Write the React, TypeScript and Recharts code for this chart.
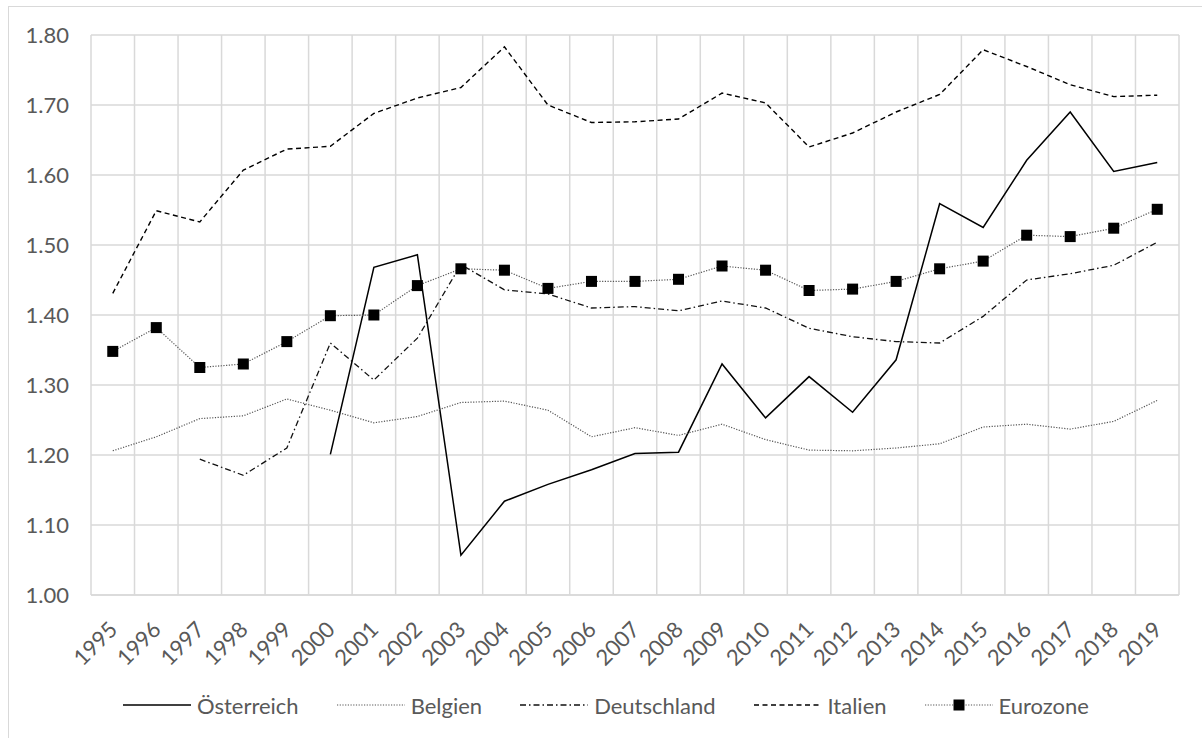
import React from 'react';
import { LineChart, Line, XAxis, YAxis, CartesianGrid, Legend } from 'recharts';

const years = ['1995','1996','1997','1998','1999','2000','2001','2002','2003','2004','2005','2006','2007','2008','2009','2010','2011','2012','2013','2014','2015','2016','2017','2018','2019'];
const oesterreich = [null,null,null,null,null,1.201,1.468,1.486,1.057,1.134,1.158,1.179,1.202,1.204,1.330,1.253,1.312,1.261,1.336,1.559,1.525,1.621,1.690,1.605,1.618];
const belgien = [1.206,1.226,1.252,1.256,1.280,1.264,1.246,1.255,1.275,1.277,1.264,1.226,1.239,1.228,1.244,1.222,1.207,1.206,1.210,1.216,1.240,1.244,1.237,1.248,1.278];
const deutschland = [null,null,1.194,1.171,1.210,1.360,1.307,1.367,1.472,1.436,1.430,1.410,1.412,1.406,1.420,1.410,1.381,1.369,1.362,1.360,1.398,1.450,1.459,1.471,1.504];
const italien = [1.431,1.549,1.533,1.607,1.637,1.641,1.688,1.710,1.725,1.783,1.700,1.675,1.676,1.680,1.717,1.703,1.640,1.660,1.690,1.715,1.779,1.755,1.729,1.712,1.714];
const eurozone = [1.348,1.382,1.325,1.330,1.362,1.399,1.400,1.442,1.466,1.464,1.438,1.448,1.448,1.451,1.470,1.464,1.435,1.437,1.448,1.466,1.477,1.514,1.512,1.524,1.551];
const yTicks = [1.0,1.1,1.2,1.3,1.4,1.5,1.6,1.7,1.8];

const data = years.map((y, i) => ({
  year: y,
  oe: oesterreich[i],
  be: belgien[i],
  de: deutschland[i],
  it: italien[i],
  eu: eurozone[i],
}));

const FONT = 'Lato, "Open Sans", sans-serif';
const TXT = '#595959';

const CHART_W = 1202;
const CHART_H = 738;
const MARGIN = { top: 35, right: 23, bottom: 13, left: 11 };
const Y_AXIS_W = 80;
const PLOT_W = CHART_W - MARGIN.left - MARGIN.right - Y_AXIS_W;
const HALF_BAND = PLOT_W / years.length / 2;

const series = [
  { key: 'oe', name: 'Österreich', stroke: '#000000', width: 1.5, dash: undefined as string | undefined, marker: false },
  { key: 'be', name: 'Belgien', stroke: '#555555', width: 1.2, dash: '1.2 1.5', marker: false },
  { key: 'de', name: 'Deutschland', stroke: '#111111', width: 1.3, dash: '6 3 1.5 3', marker: false },
  { key: 'it', name: 'Italien', stroke: '#000000', width: 1.4, dash: '5 3.5', marker: false },
  { key: 'eu', name: 'Eurozone', stroke: '#555555', width: 1.2, dash: '1.2 1.5', marker: true },
];

const SquareDot = (props: any) => {
  const { cx, cy, index } = props;
  if (cx == null || cy == null) return <g key={`d${index}`} />;
  return <rect key={`d${index}`} x={cx - 5.5} y={cy - 5.5} width={11} height={11} fill="#000" />;
};

const XTick = (props: any) => {
  const { x, y, payload } = props;
  return (
    <g transform={`translate(${x},${y + 28})`}>
      <text x={0} y={0} textAnchor="end" dominantBaseline="central" transform="rotate(-45)" fill={TXT} fontSize={22} fontFamily={FONT}>
        {payload.value}
      </text>
    </g>
  );
};

const renderLegend = () => (
  <div style={{ height: 40, display: 'flex', justifyContent: 'flex-start', alignItems: 'center', fontFamily: FONT, fontSize: 22, color: TXT, paddingLeft: 112 }}>
    {series.map((s, i) => (
      <div key={s.key} style={{ display: 'flex', alignItems: 'center', marginRight: i === series.length - 1 ? 0 : 38 }}>
        <svg width={68} height={14} style={{ marginRight: 6 }}>
          <line x1={0} y1={7} x2={68} y2={7} stroke={s.stroke} strokeWidth={s.width} strokeDasharray={s.dash} />
          {s.marker && <rect x={28.5} y={1.5} width={11} height={11} fill="#000" />}
        </svg>
        <span>{s.name}</span>
      </div>
    ))}
  </div>
);

export default function App() {
  return (
    <div style={{ position: 'relative', width: CHART_W, height: CHART_H, overflow: 'hidden', background: '#fff' }}>
      <style>{'body{margin:0;}'}</style>
      <div style={{ position: 'absolute', left: 8, top: 6, width: 1300, height: 800, border: '1px solid #d9d9d9' }} />
      <div style={{ position: 'absolute', left: 0, top: 0 }}>
        <LineChart width={CHART_W} height={CHART_H} data={data} margin={MARGIN}>
          <CartesianGrid
            stroke="#d9d9d9"
            strokeWidth={1.5}
            verticalCoordinatesGenerator={({ offset }: any) =>
              Array.from({ length: years.length + 1 }, (_, i) => offset.left + (i * offset.width) / years.length)
            }
          />
          <XAxis
            dataKey="year"
            height={90}
            interval={0}
            padding={{ left: HALF_BAND, right: HALF_BAND }}
            tickLine={false}
            tickSize={0}
            axisLine={{ stroke: '#d9d9d9', strokeWidth: 1.5 }}
            tick={<XTick />}
          />
          <YAxis
            width={Y_AXIS_W}
            domain={[1, 1.8]}
            ticks={yTicks}
            tickFormatter={(v: number) => v.toFixed(2)}
            axisLine={false}
            tickLine={false}
            tickSize={0}
            tickMargin={22}
            tick={{ fill: TXT, fontSize: 22, fontFamily: FONT }}
          />
          <Legend verticalAlign="bottom" height={40} content={renderLegend} />
          {series.map((s) => (
            <Line
              key={s.key}
              dataKey={s.key}
              name={s.name}
              type="linear"
              stroke={s.stroke}
              strokeWidth={s.width}
              strokeDasharray={s.dash}
              dot={s.marker ? <SquareDot /> : false}
              activeDot={false}
              isAnimationActive={false}
              connectNulls={false}
            />
          ))}
        </LineChart>
      </div>
    </div>
  );
}
